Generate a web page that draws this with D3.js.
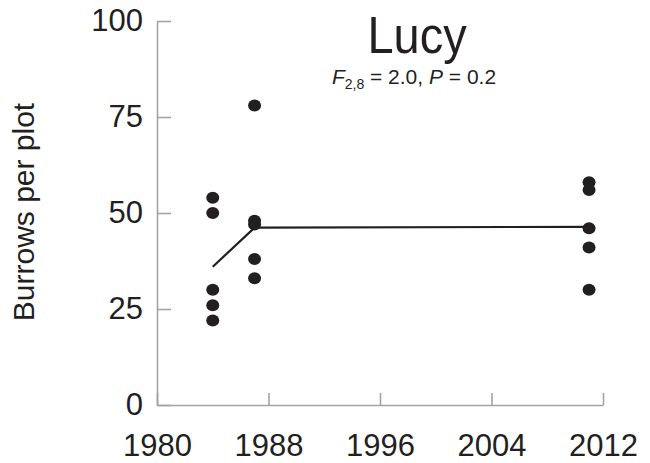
<!DOCTYPE html>
<html>
<head>
<meta charset="utf-8">
<script src="https://cdn.jsdelivr.net/npm/d3@7"></script>
<style>
  body { margin: 0; background: #fff; }
  text { font-family: "Liberation Sans", Arial, sans-serif; fill: #231f20; }
</style>
</head>
<body>
<svg id="chart" width="650" height="463"></svg>
<script>
// burrow counts per plot, by survey year
const years = [1984, 1987, 2011]
const burrows1984 = [54, 50, 30, 26, 22]
const burrows1987 = [78, 48, 47, 38, 33]
const burrows2011 = [58, 56, 46, 41, 30]
// fitted trend line
const fitYears = [1984, 1987, 2011]
const fitValues = [36, 46.2, 46.4]
const xTicks = [1980, 1988, 1996, 2004, 2012]
const yTicks = [0, 25, 50, 75, 100]

let points = []
;[burrows1984, burrows1987, burrows2011].forEach((vals, i) => {
	vals.forEach(v => points.push({ year: years[i], value: v }))
})
let fit = fitYears.map((y, i) => ({ year: y, value: fitValues[i] }))

let svg = d3.select('#chart')

let x = d3.scaleLinear().domain([1980, 2012]).range([157, 603])
let y = d3.scaleLinear().domain([0, 100]).range([405, 21])

// axes, ticks point inwards
let xAxis = svg.append('g')
	.attr('transform', 'translate(0, 405)')
	.call(d3.axisBottom(x).tickValues(xTicks).tickFormat(d3.format('d'))
		.tickSizeInner(-12).tickSizeOuter(0).tickPadding(29))

let yAxis = svg.append('g')
	.attr('transform', 'translate(157, 0)')
	.call(d3.axisLeft(y).tickValues(yTicks)
		.tickSizeInner(-14).tickSizeOuter(0).tickPadding(14))

;[xAxis, yAxis].forEach(a => {
	a.selectAll('path, line').attr('stroke', '#a3a3a3').attr('stroke-width', 1.6)
	a.selectAll('text').attr('font-size', 31).attr('fill', '#231f20')
		.attr('font-family', '"Liberation Sans", Arial, sans-serif')
})

// trend line
svg.append('path')
	.datum(fit)
	.attr('d', d3.line().x(d => x(d.year)).y(d => y(d.value)))
	.attr('fill', 'none')
	.attr('stroke', '#231f20')
	.attr('stroke-width', 2.2)

// observations
svg.selectAll('.dot')
	.data(points).enter().append('ellipse')
	.attr('class', 'dot')
	.attr('cx', d => x(d.year))
	.attr('cy', d => y(d.value))
	.attr('rx', 6.5)
	.attr('ry', 6)
	.attr('fill', '#231f20')

// titles
svg.append('text')
	.attr('transform', 'translate(417, 53) scale(1, 1.12)')
	.attr('text-anchor', 'middle')
	.attr('font-size', 47)
	.text('Lucy')

let stat = svg.append('text')
	.attr('x', 414).attr('y', 84)
	.attr('text-anchor', 'middle')
	.attr('font-size', 21)
stat.append('tspan').attr('font-style', 'italic').text('F')
stat.append('tspan').attr('font-size', 14).attr('dy', 5).text('2,8')
stat.append('tspan').attr('dy', -5).text(' = 2.0, ')
stat.append('tspan').attr('font-style', 'italic').text('P')
stat.append('tspan').text(' = 0.2')

svg.append('text')
	.attr('transform', 'translate(34, 212) rotate(-90)')
	.attr('text-anchor', 'middle')
	.attr('font-size', 30)
	.text('Burrows per plot')
</script>
</body>
</html>
